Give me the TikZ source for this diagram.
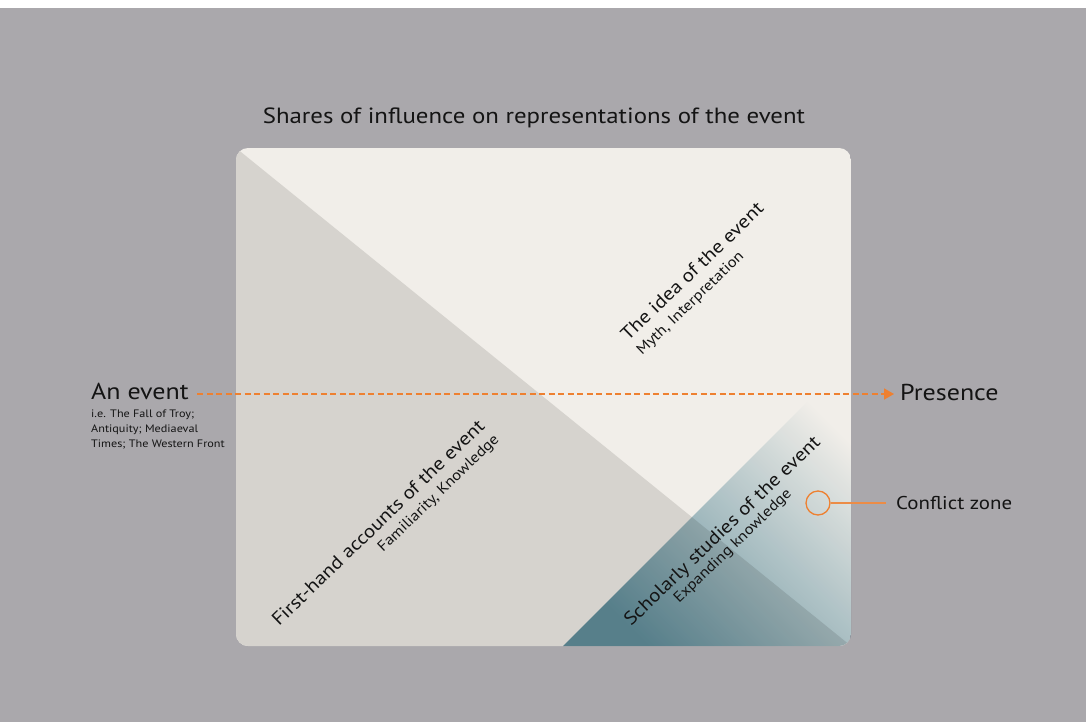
\documentclass[tikz,border=0pt]{standalone}
\usepackage{fontspec}
\setmainfont[FakeStretch=1.13]{PT Sans}
\usetikzlibrary{arrows.meta}
\definecolor{wallgray}{RGB}{170,168,172}
\definecolor{paper}{RGB}{241,238,233}
\definecolor{shadepaper}{RGB}{214,211,206}
\definecolor{teal}{RGB}{104,154,172}
\definecolor{accent}{RGB}{238,128,48}
\definecolor{leader}{RGB}{236,140,70}
\definecolor{ink}{RGB}{20,20,20}
\tikzset{
  heading/.style={font=\fontsize{22}{26}\selectfont, text=ink, inner sep=0pt},
  endlabel/.style={font=\fontsize{23}{27}\selectfont, text=ink, inner sep=0pt},
  smallnote/.style={font=\fontsize{10.8}{15}\selectfont, text=ink, inner sep=0pt, align=left},
  diaglabel/.style={font=\fontsize{18.5}{22}\selectfont, text=ink, inner sep=0pt, rotate=44, anchor=base west},
  diagsub/.style={font=\fontsize{14.7}{17}\selectfont, text=ink, inner sep=0pt, rotate=44, anchor=base west},
  timeline/.style={accent, line width=1.8pt, dash pattern=on 6pt off 3.5pt, -{Triangle[length=10pt,width=11pt]}},
}
\begin{document}
\begin{tikzpicture}[x=1pt,y=-1pt]
  % page and wall
  \useasboundingbox (0,0) rectangle (1086,722);
  \fill[white] (0,0) rectangle (1086,722);
  \fill[wallgray] (0,8) rectangle (1086,722);

  % the card
  \begin{scope}
    \clip[rounded corners=12pt] (236,148) rectangle (851,646);
    \fill[paper] (236,148) rectangle (851,646);
    \fill[shadepaper] (236,148) -- (851,646) -- (236,646) -- cycle;
    \shade[blend mode=multiply, left color=teal, right color=white, shading angle=135]
      (563,646) -- (851,646) -- (851,358) -- cycle;
  \end{scope}

  % title
  \node[heading] (title) at (534,118) {Shares of influence on representations of the event};

  % time line
  \node[endlabel, anchor=base west] (event) at (91,399) {An event};
  \node[smallnote, anchor=base west] (eventnote) at (91,447)
    {i.e. The Fall of Troy;\\Antiquity; Mediaeval\\Times; The Western Front};
  \node[endlabel, anchor=base west] (presence) at (900,400) {Presence};
  \coordinate (lineA) at (197,394);
  \coordinate (lineB) at (894,394);
  \draw[timeline] (lineA) -- (lineB);

  % diagonal labels
  \node[diaglabel] (idea) at (628,342) {The idea of the event};
  \node[diagsub] (ideasub) at (642,356) {Myth, Interpretation};
  \node[diaglabel] (first) at (279,627) {First-hand accounts of the event};
  \node[diagsub] (firstsub) at (383,553) {Familiarity, Knowledge};
  \node[diaglabel] (scholar) at (631,627) {Scholarly studies of the event};
  \node[diagsub] (scholarsub) at (679,604) {Expanding knowledge};

  % conflict zone marker
  \node[circle, draw=accent, line width=1.3pt, minimum size=24pt, inner sep=0pt] (conflict) at (818,503) {};
  \node[font=\fontsize{18.5}{22}\selectfont, text=ink, inner sep=0pt, anchor=west] (conflictlabel) at (896,503) {Conflict zone};
  \coordinate (leaderend) at (886,503);
  \draw[leader, line width=1.3pt] (conflict.east) -- (leaderend);
\end{tikzpicture}
\end{document}
